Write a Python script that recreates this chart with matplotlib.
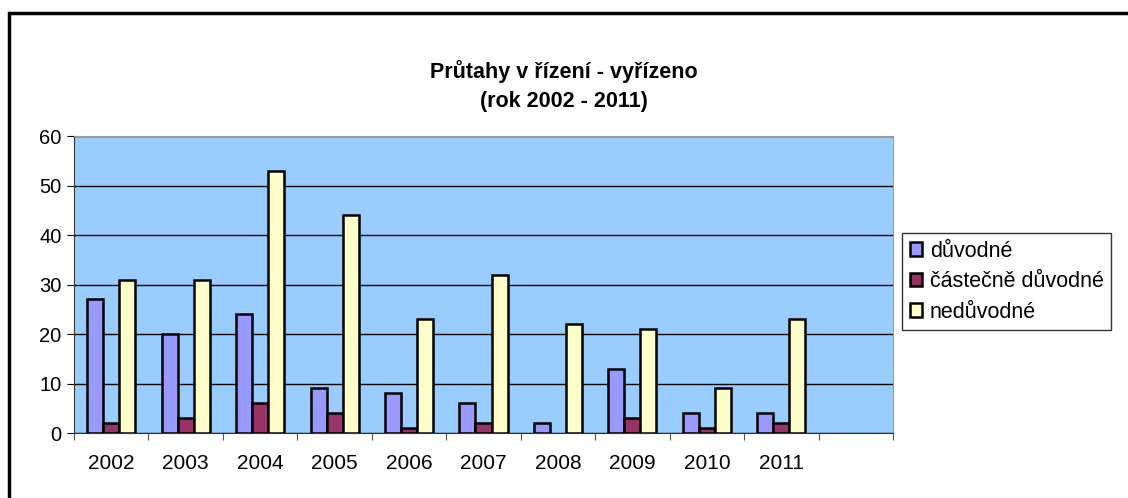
import matplotlib
matplotlib.use('Agg')
import matplotlib.pyplot as plt
from matplotlib.patches import Rectangle
import numpy as np

plt.rcParams['font.family'] = ['Liberation Sans', 'DejaVu Sans']

# data (last slot is empty in the original)
years = ['2002', '2003', '2004', '2005', '2006', '2007', '2008', '2009', '2010', '2011', '']
duvodne = [27, 20, 24, 9, 8, 6, 2, 13, 4, 4, 0]
castecne = [2, 3, 6, 4, 1, 2, 0, 3, 1, 2, 0]
neduvodne = [31, 31, 53, 44, 23, 32, 22, 21, 9, 23, 0]

series = [('důvodné', duvodne, '#9999FF'),
          ('částečně důvodné', castecne, '#993366'),
          ('nedůvodné', neduvodne, '#FFFFCC')]

fig = plt.figure(figsize=(11.28, 4.98), dpi=100)
ax = fig.add_axes([74 / 1128, 65 / 498, 819 / 1128, 297 / 498])
ax.set_facecolor('#99CCFF')

x = np.arange(len(years))
w = 0.215
for i, (name, vals, col) in enumerate(series):
    vals = np.array(vals)
    keep = vals > 0  # zero bars are not drawn at all in the original
    ax.bar(x[keep] + (i - 1) * w, vals[keep], w, color=col, edgecolor='black',
           linewidth=1.8, label=name, zorder=3)

ax.set_xlim(-0.5, len(years) - 0.5)
ax.set_ylim(0, 60)
ax.set_yticks(range(0, 61, 10))
ax.yaxis.grid(True, color='black', linewidth=1, zorder=1)
ax.set_axisbelow(True)

# tick marks on category boundaries, labels in the middle
ax.set_xticks(np.arange(-0.5, len(years), 1))
ax.set_xticklabels([])
ax.set_xticks(x, minor=True)
ax.set_xticklabels(years, minor=True)
ax.tick_params(axis='x', which='major', length=5, color='#555555', direction='out')
ax.tick_params(axis='x', which='minor', length=0, pad=15, labelsize=15)
ax.tick_params(axis='y', length=5, direction='out', labelsize=14.5, pad=4)

for s in ['top', 'right']:
    ax.spines[s].set_color('#999999')
ax.spines['left'].set_color('#333333')
ax.spines['bottom'].set_color('#333333')

fig.text(0.5, 1 - 72 / 498, 'Průtahy v řízení - vyřízeno', ha='center', va='center',
         fontsize=15.5, fontweight='bold')
fig.text(0.5, 1 - 101 / 498, '(rok 2002 - 2011)', ha='center', va='center',
         fontsize=15.5, fontweight='bold')

leg = fig.legend(loc='upper left', bbox_to_anchor=(902 / 1128, 1 - 233 / 498),
                 fontsize=15.5, frameon=True, fancybox=False, edgecolor='black',
                 handlelength=0.6, handleheight=0.6, handletextpad=0.35,
                 borderpad=0.35, labelspacing=0.45, borderaxespad=0)
leg.get_frame().set_linewidth(1)

# outer chart frame (right and bottom edges lie outside the image)
fig.patches.append(Rectangle((9 / 1128, -0.1), 1.2, 1 - 13 / 498 + 0.1,
                             transform=fig.transFigure, fill=False,
                             edgecolor='black', linewidth=2.5))

fig.savefig('out.png', dpi=100)
